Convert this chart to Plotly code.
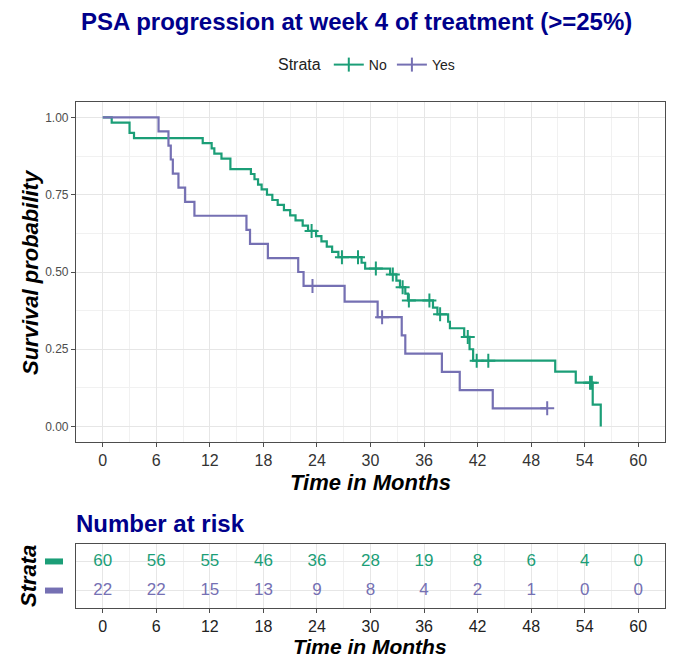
import plotly.graph_objects as go

# ---------------- data ----------------
no_times = [0, 1.0, 3.0, 3.5, 11.2, 12.2, 12.5, 13.3, 14.3, 16.6, 17.0, 17.4, 17.8,
            18.4, 19.0, 19.6, 20.3, 21.0, 21.6, 22.4, 23.0, 23.9, 24.5, 25.1, 25.7,
            26.4, 29.0, 29.4, 32.2, 32.9, 33.3, 33.9, 34.2, 37.0, 37.5, 38.7, 38.9,
            40.5, 41.1, 41.5, 50.7, 53.0, 54.9, 55.8]
no_surv = [1.0, 0.983, 0.950, 0.933, 0.917, 0.900, 0.883, 0.867, 0.833, 0.817, 0.800, 0.783, 0.767,
           0.750, 0.733, 0.717, 0.700, 0.683, 0.667, 0.650, 0.633, 0.616, 0.599, 0.582, 0.565,
           0.548, 0.530, 0.511, 0.492, 0.472, 0.451, 0.430, 0.408, 0.385, 0.363, 0.339, 0.318,
           0.290, 0.250, 0.213, 0.178, 0.142, 0.071, 0.0]
no_cens_t = [23.4, 26.8, 28.6, 30.6, 32.5, 33.6, 34.3, 36.6, 37.8, 40.9, 41.9, 43.2, 54.6, 54.8]
no_cens_s = [0.633, 0.548, 0.548, 0.511, 0.492, 0.451, 0.408, 0.408, 0.363, 0.290, 0.213, 0.213, 0.142, 0.142]

yes_times = [0, 6.25, 7.36, 7.62, 7.85, 8.48, 9.23, 10.27, 16.1, 16.5, 18.5, 21.9, 22.5,
             27.1, 30.8, 33.5, 33.9, 38.0, 40.0, 43.7, 49.8]
yes_surv = [1.0, 0.955, 0.909, 0.864, 0.818, 0.773, 0.727, 0.682, 0.636, 0.591, 0.545, 0.500, 0.455,
            0.404, 0.354, 0.295, 0.236, 0.177, 0.118, 0.059, 0.059]
yes_cens_t = [23.5, 31.3, 49.8]
yes_cens_s = [0.455, 0.354, 0.059]

risk_times = [0, 6, 12, 18, 24, 30, 36, 42, 48, 54, 60]
risk_no = [60, 56, 55, 46, 36, 28, 19, 8, 6, 4, 0]
risk_yes = [22, 22, 15, 13, 9, 8, 4, 2, 1, 0, 0]

strata = ["No", "Yes"]
y_ticks = [0, 0.25, 0.5, 0.75, 1.0]
y_ticktext = ["0.00", "0.25", "0.50", "0.75", "1.00"]

# ---------------- style ----------------
W, H = 673, 657
GREEN = "#1B9E77"
PURPLE = "#7570B3"
NAVY = "#00008B"
FONT = "Liberation Sans, Arial, sans-serif"
GRID = "#e6e6e6"
MINOR = "#f1f1f1"
LINE = "#4d4d4d"

def px_x(p):
    return p / W

def px_y(p):
    return 1 - p / H

fig = go.Figure()

for name, t, s, ct, cs, col in [(strata[0], no_times, no_surv, no_cens_t, no_cens_s, GREEN),
                                 (strata[1], yes_times, yes_surv, yes_cens_t, yes_cens_s, PURPLE)]:
    fig.add_trace(go.Scatter(x=t, y=s, mode="lines", line=dict(color=col, width=2.2, shape="hv"),
                             showlegend=False, xaxis="x", yaxis="y"))
    fig.add_trace(go.Scatter(x=ct, y=cs, mode="markers",
                             marker=dict(symbol="cross-thin", size=10, line=dict(color=col, width=2)),
                             showlegend=False, xaxis="x", yaxis="y"))
    fig.add_trace(go.Scatter(x=[None], y=[None], mode="lines+markers", name=name,
                             line=dict(color=col, width=2),
                             marker=dict(symbol="line-ns", size=10, line=dict(color=col, width=2)),
                             showlegend=True, xaxis="x", yaxis="y"))

for row, vals, col in [(2, risk_no, GREEN), (1, risk_yes, PURPLE)]:
    fig.add_trace(go.Scatter(x=risk_times, y=[row] * len(risk_times), mode="text",
                             text=[str(v) for v in vals],
                             textfont=dict(color=col, size=17, family=FONT),
                             showlegend=False, xaxis="x2", yaxis="y2", hoverinfo="skip"))

xdom = [px_x(76), px_x(665)]
axis_common = dict(showline=True, linecolor=LINE, linewidth=1.2, mirror=True,
                   ticks="outside", ticklen=4, tickcolor=LINE, tickwidth=1,
                   showgrid=True, gridcolor=GRID, gridwidth=1, zeroline=False)

fig.update_layout(
    width=W, height=H, margin=dict(l=0, r=0, t=0, b=0),
    paper_bgcolor="white", plot_bgcolor="white",
    font=dict(family=FONT, color="#4d4d4d"),
    xaxis=dict(domain=xdom, range=[-3, 63], tickvals=risk_times, anchor="y",
               tickfont=dict(size=16, color="#333333"),
               minor=dict(dtick=3, tick0=0, showgrid=True, gridcolor=MINOR, ticks=""),
               **axis_common),
    yaxis=dict(domain=[px_y(442), px_y(102)], range=[-0.05, 1.05], tickvals=y_ticks,
               ticktext=y_ticktext, anchor="x",
               tickfont=dict(size=12, color="#4d4d4d"),
               minor=dict(dtick=0.125, tick0=0, showgrid=True, gridcolor=MINOR, ticks=""),
               **axis_common),
    xaxis2=dict(domain=xdom, range=[-3, 63], tickvals=risk_times, anchor="y2",
                tickfont=dict(size=16, color="#222222"),
                minor=dict(dtick=3, tick0=0, showgrid=True, gridcolor=MINOR, ticks=""),
                **axis_common),
    yaxis2=dict(domain=[px_y(608), px_y(544)], range=[0.4, 2.6], tickvals=[1, 2],
                showticklabels=False, anchor="x2", **{k: v for k, v in axis_common.items() if k != "ticks"},
                ticks=""),
    legend=dict(orientation="h", x=px_x(368), xanchor="center", y=px_y(65), yanchor="middle",
                title=dict(text="Strata", font=dict(size=16, color="#222222")),
                font=dict(size=14, color="#222222"), bgcolor="rgba(0,0,0,0)",
                itemwidth=30),
)

ann = [
    dict(text="<b>PSA progression at week 4 of treatment (>=25%)</b>", x=px_x(356), y=px_y(21),
         font=dict(size=24, color=NAVY)),
    dict(text="<b><i>Survival probability</i></b>", x=px_x(30), y=px_y(272), textangle=-90,
         font=dict(size=22, color="black")),
    dict(text="<b><i>Time in Months</i></b>", x=px_x(370), y=px_y(482),
         font=dict(size=22, color="black")),
    dict(text="<b>Number at risk</b>", x=px_x(74), y=px_y(523), xanchor="left",
         font=dict(size=24, color=NAVY)),
    dict(text="<b><i>Strata</i></b>", x=px_x(28), y=px_y(576), textangle=-90,
         font=dict(size=22, color="black")),
    dict(text="<b><i>Time in Months</i></b>", x=px_x(370), y=px_y(646),
         font=dict(size=21, color="black")),
]
for a in ann:
    a.setdefault("xanchor", "center")
    a.update(xref="paper", yref="paper", yanchor="middle", showarrow=False)
fig.update_layout(annotations=ann)

for row, col in [(2, GREEN), (1, PURPLE)]:
    fig.add_shape(type="line", xref="paper", yref="y2", x0=px_x(45), x1=px_x(63), y0=row, y1=row,
                  line=dict(color=col, width=6))

fig.write_html("out.html", config={"displayModeBar": False},
               post_script="document.body.style.margin='0px';document.body.style.overflow='hidden';")
